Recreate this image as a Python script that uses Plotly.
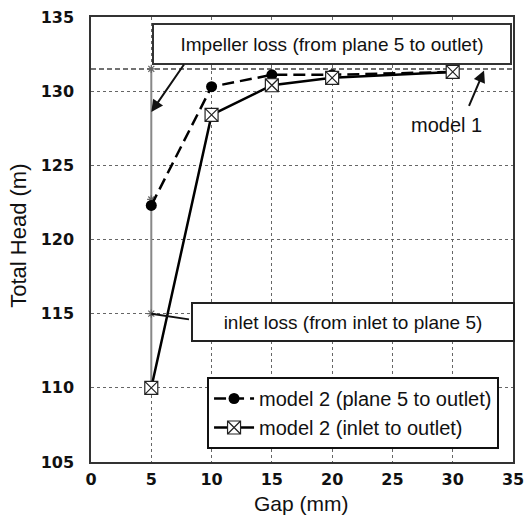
import plotly.graph_objects as go

# ---- data ----
gap_mm = [5, 10, 15, 20, 30]
head_m2_plane5 = [122.3, 130.3, 131.1, 131.1, 131.3]
head_m2_inlet = [110.0, 128.4, 130.4, 130.9, 131.3]
model1_gap = [0, 35]
model1_head = [131.5, 131.5]
loss_gap = [5, 5, 5, 5]
loss_head = [131.5, 122.7, 115.0, 110.0]

x_ticks = [0, 5, 10, 15, 20, 25, 30, 35]
y_ticks = [105, 110, 115, 120, 125, 130, 135]

FONT = "Liberation Sans, Arial, sans-serif"
TICKFONT = dict(family="DejaVu Sans, sans-serif", size=16, color="#111", weight="bold")

fig = go.Figure()

fig.add_trace(go.Scatter(
    x=model1_gap, y=model1_head, mode="lines",
    line=dict(color="#444", width=1.5, dash="5px,3px"),
    showlegend=False, hoverinfo="skip"))

fig.add_trace(go.Scatter(
    x=loss_gap, y=loss_head, mode="lines+markers",
    line=dict(color="#888", width=2),
    marker=dict(symbol="asterisk-open", size=7, color="#666", line=dict(width=1.2, color="#666")),
    showlegend=False, hoverinfo="skip"))

fig.add_trace(go.Scatter(
    x=gap_mm, y=head_m2_plane5, mode="lines+markers",
    name="model 2 (plane 5 to outlet)",
    line=dict(color="#000", width=2.5, dash="12px,6px"),
    marker=dict(symbol="circle", size=11, color="#000")))

fig.add_trace(go.Scatter(
    x=gap_mm, y=head_m2_inlet, mode="lines+markers",
    name="model 2 (inlet to outlet)",
    line=dict(color="#000", width=2.5),
    marker=dict(symbol="square-x", size=13, color="#fff", line=dict(width=1.2, color="#222"))))

annotations = [
    dict(x=20.0, y=133.2, xref="x", yref="y", text="Impeller loss (from plane 5 to outlet)",
         showarrow=False, xanchor="center", yanchor="middle",
         font=dict(family=FONT, size=19, color="#111"),
         bgcolor="#fff", bordercolor="#333", borderwidth=2, borderpad=2, width=352, height=34),
    dict(x=21.7, y=114.45, xref="x", yref="y", text="inlet loss (from inlet to plane 5)",
         showarrow=False, xanchor="center", yanchor="middle",
         font=dict(family=FONT, size=19, color="#111"),
         bgcolor="#fff", bordercolor="#222", borderwidth=2, borderpad=2, width=316, height=32),
    dict(x=29.5, y=127.7, xref="x", yref="y", text="model 1", showarrow=False,
         font=dict(family=FONT, size=20, color="#111")),
    # arrows
    dict(x=5, y=128.6, xref="x", yref="y", ax=7.8, ay=131.9, axref="x", ayref="y",
         text="", showarrow=True, arrowhead=2, arrowsize=1.2, arrowwidth=2, arrowcolor="#111"),
    dict(x=5, y=115.0, xref="x", yref="y", ax=8.25, ay=114.6, axref="x", ayref="y",
         text="", showarrow=True, arrowhead=0, arrowwidth=2, arrowcolor="#111"),
    dict(x=32.6, y=131.4, xref="x", yref="y", ax=31.3, ay=128.9, axref="x", ayref="y",
         text="", showarrow=True, arrowhead=2, arrowsize=1.2, arrowwidth=2, arrowcolor="#111"),
    # axis titles
    dict(x=0.498, y=-0.093, xref="paper", yref="paper", text="Gap (mm)", showarrow=False,
         xanchor="center", yanchor="middle", font=dict(family=FONT, size=21, color="#111")),
    dict(x=-0.171, y=0.508, xref="paper", yref="paper", text="Total Head (m)", showarrow=False,
         textangle=-90, xanchor="center", yanchor="middle",
         font=dict(family=FONT, size=22, color="#111")),
]

axis_common = dict(
    showgrid=True, gridcolor="#666", griddash="dot", gridwidth=1,
    showline=True, linecolor="#333", linewidth=1.5, mirror=True,
    zeroline=False, ticks="", tickfont=TICKFONT, automargin=False,
)

fig.update_layout(
    width=529, height=524,
    margin=dict(l=91, r=16, t=17, b=62),
    paper_bgcolor="#fff", plot_bgcolor="#fff",
    annotations=annotations,
    xaxis=dict(range=[0, 35], tickvals=x_ticks, ticklabelstandoff=2, **axis_common),
    yaxis=dict(range=[105, 135], tickvals=y_ticks, ticklabelstandoff=12, **axis_common),
    legend=dict(x=0.275, y=0.191, xanchor="left", yanchor="top",
                bgcolor="#fff", bordercolor="#111", borderwidth=2,
                font=dict(family=FONT, size=20, color="#111"),
                itemwidth=40, tracegroupgap=0),
    showlegend=True,
)

fig.write_html("out.html", config={"displayModeBar": False},
               post_script="document.body.style.margin='0';")
